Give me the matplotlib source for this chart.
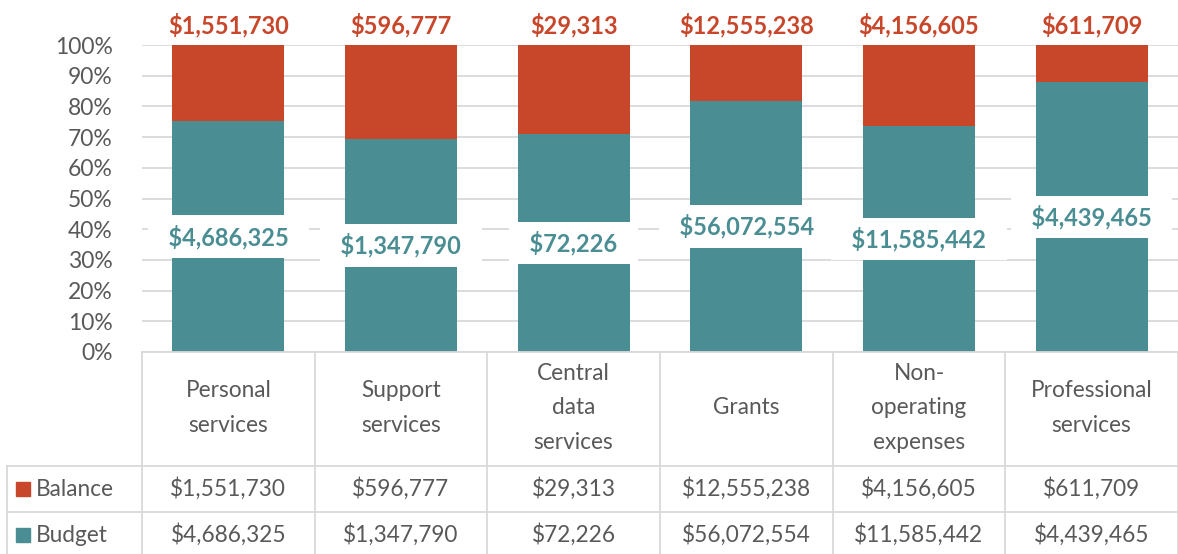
import matplotlib
matplotlib.use("Agg")
import matplotlib.pyplot as plt
import numpy as np

# data
categories = ["Personal\nservices", "Support\nservices", "Central\ndata\nservices",
              "Grants", "Non-\noperating\nexpenses", "Professional\nservices"]
balance = [1551730, 596777, 29313, 12555238, 4156605, 611709]
budget = [4686325, 1347790, 72226, 56072554, 11585442, 4439465]
series_names = ["Balance", "Budget"]

teal = "#4A8E93"
red = "#C8462A"
grey = "#595959"
line_c = "#D9D9D9"

plt.rcParams["font.family"] = ["Lato", "DejaVu Sans"]

budget_a = np.array(budget, dtype=float)
balance_a = np.array(balance, dtype=float)
total = budget_a + balance_a
budget_pct = budget_a / total * 100
balance_pct = balance_a / total * 100

fig = plt.figure(figsize=(11.78, 5.54), dpi=100)
ax = fig.add_axes([142 / 1178, 1 - 352 / 554, 1036 / 1178, 307 / 554])

x = np.arange(len(categories))
w = 0.65
ax.bar(x, budget_pct, w, color=teal, zorder=2)
ax.bar(x, balance_pct, w, bottom=budget_pct, color=red, zorder=2)

ax.set_xlim(-0.5, len(categories) - 0.5)
ax.set_ylim(0, 100)
ax.set_yticks(np.arange(0, 101, 10))
ax.set_yticklabels([f"{v}%" for v in range(0, 101, 10)])
ax.tick_params(axis="y", length=0, pad=21, labelsize=16.5, labelcolor=grey)
ax.tick_params(axis="x", length=0, labelbottom=False)
ax.grid(axis="y", color=line_c, linewidth=1.3, zorder=0)
for s in ["left", "right", "top"]:
    ax.spines[s].set_visible(False)
ax.spines["bottom"].set_color(line_c)
ax.spines["bottom"].set_linewidth(1.3)

# data labels
for i in range(len(categories)):
    ax.text(x[i], 100 + 2.5, f"${balance[i]:,}", ha="center", va="bottom",
            color=red, fontsize=17, fontweight="bold", clip_on=False)
    ax.text(x[i], budget_pct[i] / 2, f"  ${budget[i]:,}  ", ha="center", va="center",
            color=teal, fontsize=17, fontweight="bold", zorder=4,
            bbox=dict(boxstyle="square,pad=0.38", fc="white", ec="none"))

# data table under the chart
tr = ax.get_xaxis_transform()
px = 307.0
y_hdr = -(466 - 352) / px
y_bal = -(512 - 352) / px
y_bud = -(556 - 352) / px
x_left = -0.5 - 135 / (1036 / 6)
x_right = len(categories) - 0.5

lk = dict(color=line_c, linewidth=1.3, transform=tr, clip_on=False)
for b in np.arange(-0.5, len(categories) + 0.5, 1.0):
    ax.plot([b, b], [0, y_bud], **lk)
ax.plot([x_left, x_left], [y_hdr, y_bud], **lk)
for yy in [y_hdr, y_bal, y_bud]:
    ax.plot([x_left, x_right], [yy, yy], **lk)

y_cat = -(408 - 352) / px
y_r1 = -(489 - 352) / px
y_r2 = -(535 - 352) / px
for i, c in enumerate(categories):
    ax.text(x[i], y_cat, c, ha="center", va="center", transform=tr,
            fontsize=16.3, color=grey, linespacing=1.8)
    ax.text(x[i], y_r1, f"${balance[i]:,}", ha="center", va="center",
            transform=tr, fontsize=16.3, color=grey)
    ax.text(x[i], y_r2, f"${budget[i]:,}", ha="center", va="center",
            transform=tr, fontsize=16.3, color=grey)

sq = 14 / (1036 / 6)
for name, col, yy in [(series_names[0], red, y_r1), (series_names[1], teal, y_r2)]:
    ax.add_patch(plt.Rectangle((x_left + 9 / (1036 / 6), yy - 7 / px), sq, 14 / px,
                               color=col, transform=tr, clip_on=False))
    ax.text(x_left + 29 / (1036 / 6), yy, name, ha="left", va="center",
            transform=tr, fontsize=16.3, color=grey)

fig.savefig("out.png", dpi=100)
